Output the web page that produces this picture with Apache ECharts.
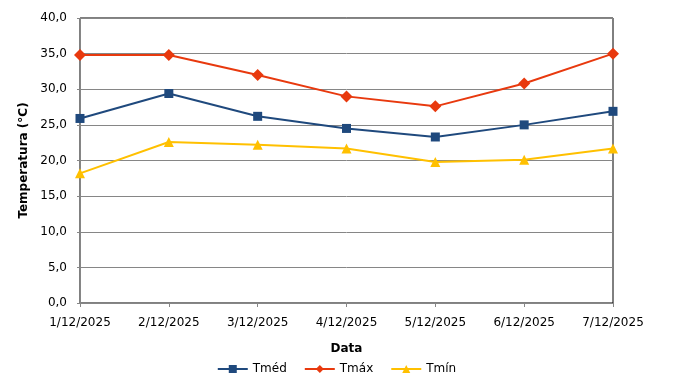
<!DOCTYPE html>
<html><head><meta charset="utf-8">
<script src="https://cdn.jsdelivr.net/npm/echarts@6/dist/echarts.min.js"></script>
<style>html,body{margin:0;padding:0;background:#fff}#c{width:673px;height:388px}</style>
</head><body><div id="c"></div>
<script>
const categories = ['1/12/2025','2/12/2025','3/12/2025','4/12/2025','5/12/2025','6/12/2025','7/12/2025'];
const tmed = [25.9, 29.4, 26.2, 24.5, 23.3, 25.0, 26.9];
const tmax = [34.8, 34.8, 32.0, 29.0, 27.6, 30.8, 35.0];
const tmin = [18.2, 22.6, 22.2, 21.7, 19.8, 20.1, 21.7];
const yTicks = [0, 5, 10, 15, 20, 25, 30, 35, 40];

const font = 'DejaVu Sans';
const chart = echarts.init(document.getElementById('c'), null, {renderer:'canvas'});
chart.setOption({
  animation:false,
  textStyle:{fontFamily:font},
  grid:{left:80, right:60, top:18, bottom:85, outerBoundsMode:'none', containLabel:false,
    show:true, borderColor:'#000', borderWidth:1, backgroundColor:'transparent'},
  legend:{bottom:8, left:'center', itemWidth:30, itemHeight:10, itemGap:17,
    textStyle:{fontFamily:font, fontSize:12, color:'#000'},
    data:['Tméd','Tmáx','Tmín']},
  xAxis:{type:'category', data:categories, boundaryGap:false,
    name:'Data', nameLocation:'middle', nameGap:40,
    nameTextStyle:{fontFamily:font, fontWeight:'bold', fontSize:12, color:'#000'},
    axisLine:{lineStyle:{color:'#868686'}},
    axisTick:{show:true, length:4, lineStyle:{color:'#868686'}, alignWithLabel:true},
    axisLabel:{fontFamily:font, fontSize:12, color:'#000', margin:14, interval:0}},
  yAxis:{type:'value', min:yTicks[0], max:yTicks[yTicks.length-1], interval:5,
    name:'Temperatura (°C)', nameLocation:'middle', nameGap:43,
    nameTextStyle:{fontFamily:font, fontWeight:'bold', fontSize:12, color:'#000'},
    axisLine:{show:true, lineStyle:{color:'#868686'}},
    axisTick:{show:true, length:3, lineStyle:{color:'#868686'}},
    splitLine:{lineStyle:{color:'#868686'}},
    axisLabel:{fontFamily:font, fontSize:12, color:'#000', margin:13,
      formatter:v=>v.toFixed(1).replace('.',',')}},
  series:[
    {name:'Tméd', type:'line', data:tmed, symbol:'rect', symbolSize:9,
      itemStyle:{color:'#1F497D'}, lineStyle:{color:'#1F497D', width:2}, z:3},
    {name:'Tmáx', type:'line', data:tmax, symbol:'diamond', symbolSize:12,
      itemStyle:{color:'#E8390E'}, lineStyle:{color:'#E8390E', width:2}, z:4},
    {name:'Tmín', type:'line', data:tmin, symbol:'triangle', symbolSize:10,
      itemStyle:{color:'#FFC000'}, lineStyle:{color:'#FFC000', width:2}, z:2}
  ]
});
</script></body></html>
